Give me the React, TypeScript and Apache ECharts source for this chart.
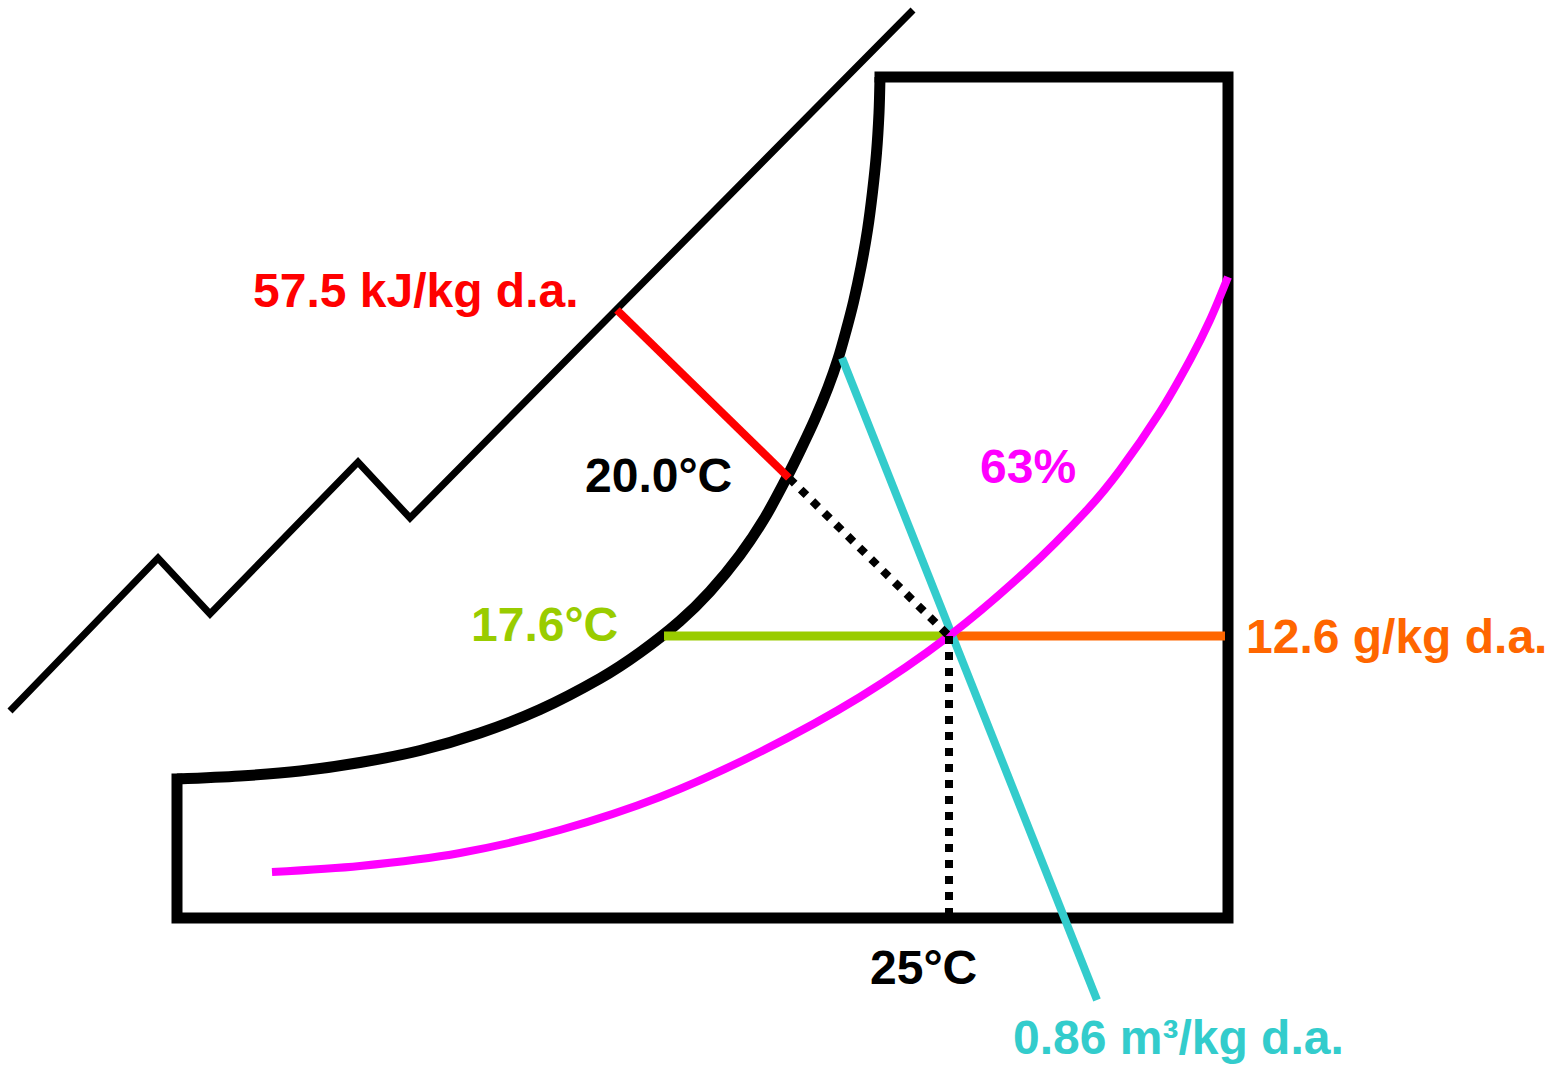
import React, { useEffect, useRef } from "react";
import * as echarts from "echarts";

const W = 1563;
const H = 1068;

// Diagram geometry (pixel space of the reference picture)
const frameEdges = [[880, 77], [1228, 77], [1228, 918], [177, 918], [177, 779]];
const saturationCurve = [
  [177, 779], [240, 776], [300, 771], [360, 762.5], [420, 750.5], [480, 733],
  [540, 709.5], [600, 678.5], [640, 652.5], [680, 621], [710, 591.5], [740, 555],
  [765, 517.5], [787, 477], [800, 451], [815, 419], [828, 387.5], [838, 359],
  [846, 331], [853.5, 302], [861, 267], [867.5, 230], [872.5, 192], [876.5, 153],
  [879, 113], [880, 77],
];
const enthalpyScale = [[10, 711], [158, 558], [210, 614], [358, 462], [410, 518], [913, 10]];
const enthalpyLine = [[617, 310], [789, 478]];
const wetBulbProjection = [[789, 478], [949, 636]];
const dryBulbProjection = [[949, 636], [949, 918]];
const dewPointLine = [[664, 636], [949, 636]];
const humidityRatioLine = [[949, 636], [1225, 636]];
const specificVolumeLine = [[842, 358], [1097, 1000]];
const rhCurve = [
  [272, 872], [360, 866], [460, 853], [560, 830], [660, 797], [760, 752],
  [860, 697], [949, 636], [1027, 570], [1087, 510], [1120, 470], [1160, 412],
  [1190, 360], [1210, 320], [1228, 277],
];

// Labels
const labelTexts = [
  "57.5 kJ/kg d.a.",
  "20.0°C",
  "63%",
  "17.6°C",
  "12.6 g/kg d.a.",
  "25°C",
  "0.86 m³/kg d.a.",
];
const labelAnchors = [
  [253, 290], [585, 475], [980, 466], [471, 624], [1246, 636], [870, 967], [1013, 1037],
];
const labelColors = ["#FF0000", "#000000", "#FF00FF", "#99CC00", "#FF6600", "#000000", "#33CCCC"];

function lineSeries(data: number[][], color: string, width: number, extra: any = {}) {
  return {
    type: "line",
    data,
    showSymbol: false,
    symbol: "none",
    silent: true,
    lineStyle: { color, width, cap: "butt", join: "miter", opacity: 1, ...(extra.lineStyle || {}) },
    smooth: extra.smooth || false,
    z: extra.z || 2,
  };
}

export default function App() {
  const ref = useRef<HTMLDivElement>(null);
  useEffect(() => {
    if (!ref.current) return;
    const chart = echarts.init(ref.current, undefined, { renderer: "svg" });
    const labelSeries = labelTexts.map((t, i) => ({
      type: "scatter",
      data: [labelAnchors[i]],
      symbolSize: 0,
      silent: true,
      z: 10,
      itemStyle: { opacity: 1, color: labelColors[i] },
      label: {
        show: true,
        position: "right",
        distance: 0,
        formatter: () => t,
        color: labelColors[i],
        opacity: 1,
        fontFamily: "'Liberation Sans', Arial, sans-serif",
        fontWeight: "bold",
        fontSize: 48,
      },
    }));
    chart.setOption({
      animation: false,
      backgroundColor: "#ffffff",
      grid: { left: 0, right: 0, top: 0, bottom: 0 },
      xAxis: { type: "value", min: 0, max: W, show: false },
      yAxis: { type: "value", min: 0, max: H, inverse: true, show: false },
      series: [
        lineSeries(frameEdges, "#000000", 11, { lineStyle: { cap: "square" } }),
        lineSeries(saturationCurve, "#000000", 11, { smooth: 0.3 }),
        lineSeries(enthalpyScale, "#000000", 7),
        lineSeries(enthalpyLine, "#FF0000", 8),
        lineSeries(dewPointLine, "#99CC00", 9),
        lineSeries(humidityRatioLine, "#FF6600", 9),
        lineSeries(specificVolumeLine, "#33CCCC", 8),
        lineSeries(rhCurve, "#FF00FF", 8, { smooth: 0.3 }),
        lineSeries(wetBulbProjection, "#000000", 8, { lineStyle: { type: [8, 8.5] }, z: 3 }),
        lineSeries(dryBulbProjection, "#000000", 8, { lineStyle: { type: [8, 8] }, z: 3 }),
        ...labelSeries,
      ],
    });
    return () => chart.dispose();
  }, []);
  return (
    <div
      ref={ref}
      style={{ position: "fixed", left: 0, top: 0, width: W, height: H, background: "#fff" }}
    />
  );
}
